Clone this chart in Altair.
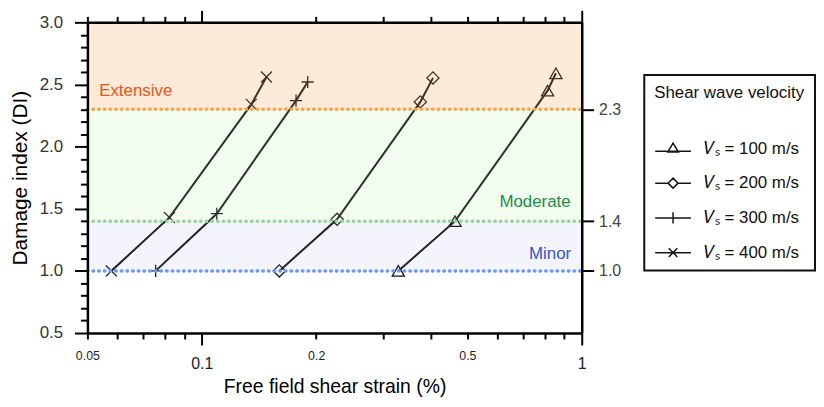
import altair as alt
import pandas as pd

# ---------------- data ----------------
vs_values = [100, 200, 300, 400]
vs_labels = ["𝑉ₛ = 100 m/s", "𝑉ₛ = 200 m/s", "𝑉ₛ = 300 m/s", "𝑉ₛ = 400 m/s"]

strain_100 = [0.329, 0.464, 0.813, 0.855]
di_100 = [1.00, 1.40, 2.45, 2.59]
strain_200 = [0.160, 0.227, 0.376, 0.406]
di_200 = [1.00, 1.415, 2.36, 2.553]
strain_300 = [0.0756, 0.1095, 0.177, 0.190]
di_300 = [1.00, 1.46, 2.37, 2.52]
strain_400 = [0.0578, 0.0822, 0.135, 0.148]
di_400 = [1.00, 1.43, 2.34, 2.56]

zones = ["Minor", "Moderate", "Extensive"]
zone_lower = [1.0, 1.4, 2.3]
zone_upper = [1.4, 2.3, 3.0]

x_domain = [0.05, 1.0]
y_domain = [0.5, 3.0]
x_ticks = [0.05, 0.06, 0.07, 0.08, 0.09, 0.1, 0.2, 0.3, 0.4, 0.5, 0.6, 0.7, 0.8, 0.9, 1.0]
y_ticks = [round(0.5 + 0.1 * i, 1) for i in range(26)]
right_ticks = [1.0, 1.4, 2.3]

# label anchors (data space)
label_left = pd.DataFrame({"zone": ["Extensive"], "text": ["Extensive"], "x": [0.0537], "y": [2.45]})
label_right = pd.DataFrame({"zone": ["Moderate", "Minor"], "text": ["Moderate", "Minor"],
                            "x": [0.935, 0.938], "y": [1.554, 1.139]})

# ---------------- tables ----------------
rows = []
for vs, lab, xs_, ys_ in zip(vs_values, vs_labels,
                             [strain_100, strain_200, strain_300, strain_400],
                             [di_100, di_200, di_300, di_400]):
    for i, (xv, yv) in enumerate(zip(xs_, ys_)):
        rows.append({"vs": str(vs), "label": lab, "order": i, "strain": xv, "di": yv})
df = pd.DataFrame(rows)

bands = pd.DataFrame({"zone": zones, "lo": zone_lower, "hi": zone_upper,
                      "x0": [x_domain[0]] * 3, "x1": [x_domain[1]] * 3})

# ---------------- style ----------------
FONT = "Liberation Sans"
INK = "#151515"
band_colors = ["#9191E1", "#A5F09B", "#FA983F"]
band_alpha = [0.1, 0.2, 0.37]
rule_colors = ["#6E98F2", "#9CD39A", "#F7A54A"]
text_colors = ["#3358C8", "#1E8C4A", "#E8531A"]

xs = alt.Scale(type="log", domain=x_domain, nice=False)
ys = alt.Scale(domain=y_domain, nice=False, zero=False)

x_major = "datum.value == 0.1 || datum.value == 1"
x_bottom = alt.Axis(
    orient="bottom", values=x_ticks, title="Free field shear strain (%)",
    labelExpr="datum.value == 0.05 ? '0.05' : datum.value == 0.1 ? '0.1' : datum.value == 0.2 ? '0.2' : datum.value == 0.5 ? '0.5' : datum.value == 1 ? '1' : ''",
    labelFont=FONT, labelColor="#222",
    labelFontSize={"condition": {"test": x_major, "value": 16}, "value": 12.5},
    labelPadding=11, labelBaseline="top", labelFlush=False, labelOverlap=False,
    tickSize={"condition": {"test": x_major, "value": 12}, "value": 6},
    tickWidth=2, tickColor="black", domainColor="black", domainWidth=2.5,
    titleFont=FONT, titleFontSize=19.5, titleFontWeight="normal", titleColor="black",
    titlePadding=6, grid=False, zindex=1)
x_top = alt.Axis(
    orient="top", values=x_ticks, title=None, labels=False,
    tickSize={"condition": {"test": x_major, "value": 12}, "value": 6},
    tickWidth=2, tickColor="black", domainColor="black", domainWidth=2.5,
    grid=False, zindex=1)
y_major = "abs(datum.value * 2 - round(datum.value * 2)) < 0.001"
y_left = alt.Axis(
    orient="left", values=y_ticks, title="Damage index (DI)",
    labelExpr=f"{y_major} ? format(datum.value, '.1f') : ''",
    labelFont=FONT, labelFontSize=17, labelColor="#333", labelPadding=12,
    labelOverlap=False, labelFlush=False,
    tickSize={"condition": {"test": y_major, "value": 13}, "value": 7},
    tickWidth=2, tickColor="black", domainColor="black", domainWidth=2.5,
    titleFont=FONT, titleFontSize=21, titleFontWeight="normal", titleColor="black",
    titlePadding=9, grid=False, zindex=1)
y_right = alt.Axis(
    orient="right", values=right_ticks, title=None, format=".1f",
    labelFont=FONT, labelFontSize=16, labelColor="#444", labelPadding=5,
    labelOverlap=False, labelFlush=False,
    tickSize=12, tickWidth=2, tickColor="black", domainColor="black", domainWidth=2.5,
    grid=False, zindex=1)

# marker shapes
plot_shapes = ["triangle-up", "diamond", "M-1,0L1,0M0,-1L0,1", "M-0.9,-0.9L0.9,0.9M-0.9,0.9L0.9,-0.9"]
legend_shapes = [
    "M-1,0.1L1,0.1M0,-0.35L0.3,0.15L-0.3,0.15Z",
    "M-1,0L-0.28,0M0.28,0L1,0M0,-0.28L0.28,0L0,0.28L-0.28,0Z",
    "M-1,0L1,0M0,-0.32L0,0.32",
    "M-1,0L1,0M-0.24,-0.24L0.24,0.24M-0.24,0.24L0.24,-0.24",
]

base = alt.Chart(df)

lines = base.mark_line(color=INK, strokeWidth=2).encode(
    x=alt.X("strain:Q", scale=xs, axis=None),
    y=alt.Y("di:Q", scale=ys, axis=None),
    detail="vs:N", order="order:Q")

points = base.mark_point(filled=False, size=150, strokeWidth=1.3, color=INK, opacity=1).encode(
    x=alt.X("strain:Q", scale=xs, axis=None),
    y=alt.Y("di:Q", scale=ys, axis=None),
    shape=alt.Shape("vs:N", scale=alt.Scale(domain=[str(v) for v in vs_values], range=plot_shapes), legend=None))

legend_layer = base.transform_filter("datum.order < 0").mark_point(
    filled=False, strokeWidth=1.5, color=INK).encode(
    x=alt.X("strain:Q", scale=xs, axis=None),
    y=alt.Y("di:Q", scale=ys, axis=None),
    shape=alt.Shape("label:N", scale=alt.Scale(domain=vs_labels, range=legend_shapes),
                    legend=alt.Legend(
                        orient="none", legendX=561, legendY=53,
                        title="Shear wave velocity", titleFont=FONT, titleFontSize=17,
                        titleFontWeight="normal", titleColor="#111", titlePadding=29,
                        labelFont=FONT, labelFontSize=17, labelColor="#111", labelOffset=12,
                        symbolSize=1296, symbolStrokeWidth=1.5, symbolStrokeColor=INK,
                        symbolFillColor="white", symbolOpacity=1,
                        strokeColor="#111", fillColor="white", padding=10, rowPadding=7)))

band_layer = alt.Chart(bands).mark_rect().encode(
    x=alt.X("x0:Q", scale=xs, axis=x_bottom), x2="x1:Q",
    y=alt.Y("lo:Q", scale=ys, axis=y_left), y2="hi:Q",
    fill=alt.Fill("zone:N", scale=alt.Scale(domain=zones, range=band_colors), legend=None),
    opacity=alt.Opacity("zone:N", scale=alt.Scale(domain=zones, range=band_alpha), legend=None))

rule_layer = alt.Chart(bands).mark_rule(strokeWidth=3.5, strokeDash=[0.5, 5.2], strokeCap="round").encode(
    x=alt.X("x0:Q", scale=xs, axis=x_top), x2="x1:Q",
    y=alt.Y("lo:Q", scale=ys, axis=y_right),
    stroke=alt.Stroke("zone:N", scale=alt.Scale(domain=zones, range=rule_colors), legend=None))

text_l = alt.Chart(label_left).mark_text(align="left", baseline="middle", font=FONT, fontSize=17).encode(
    x=alt.X("x:Q", scale=xs, axis=None), y=alt.Y("y:Q", scale=ys, axis=None), text="text:N",
    color=alt.Color("zone:N", scale=alt.Scale(domain=zones, range=text_colors), legend=None))
text_r = alt.Chart(label_right).mark_text(align="right", baseline="middle", font=FONT, fontSize=17).encode(
    x=alt.X("x:Q", scale=xs, axis=None), y=alt.Y("y:Q", scale=ys, axis=None), text="text:N",
    color=alt.Color("zone:N", scale=alt.Scale(domain=zones, range=text_colors), legend=None))

chart = alt.layer(lines, points, legend_layer, band_layer, rule_layer, text_l, text_r).resolve_scale(
    shape="independent").resolve_axis(x="independent", y="independent").properties(
    width=498, height=313, padding={"left": 1, "top": 0, "right": 0, "bottom": 0}
).configure_view(strokeWidth=0).configure_legend(strokeWidth=2)

chart.save("out.html", embed_options={"renderer": "svg", "actions": False})
